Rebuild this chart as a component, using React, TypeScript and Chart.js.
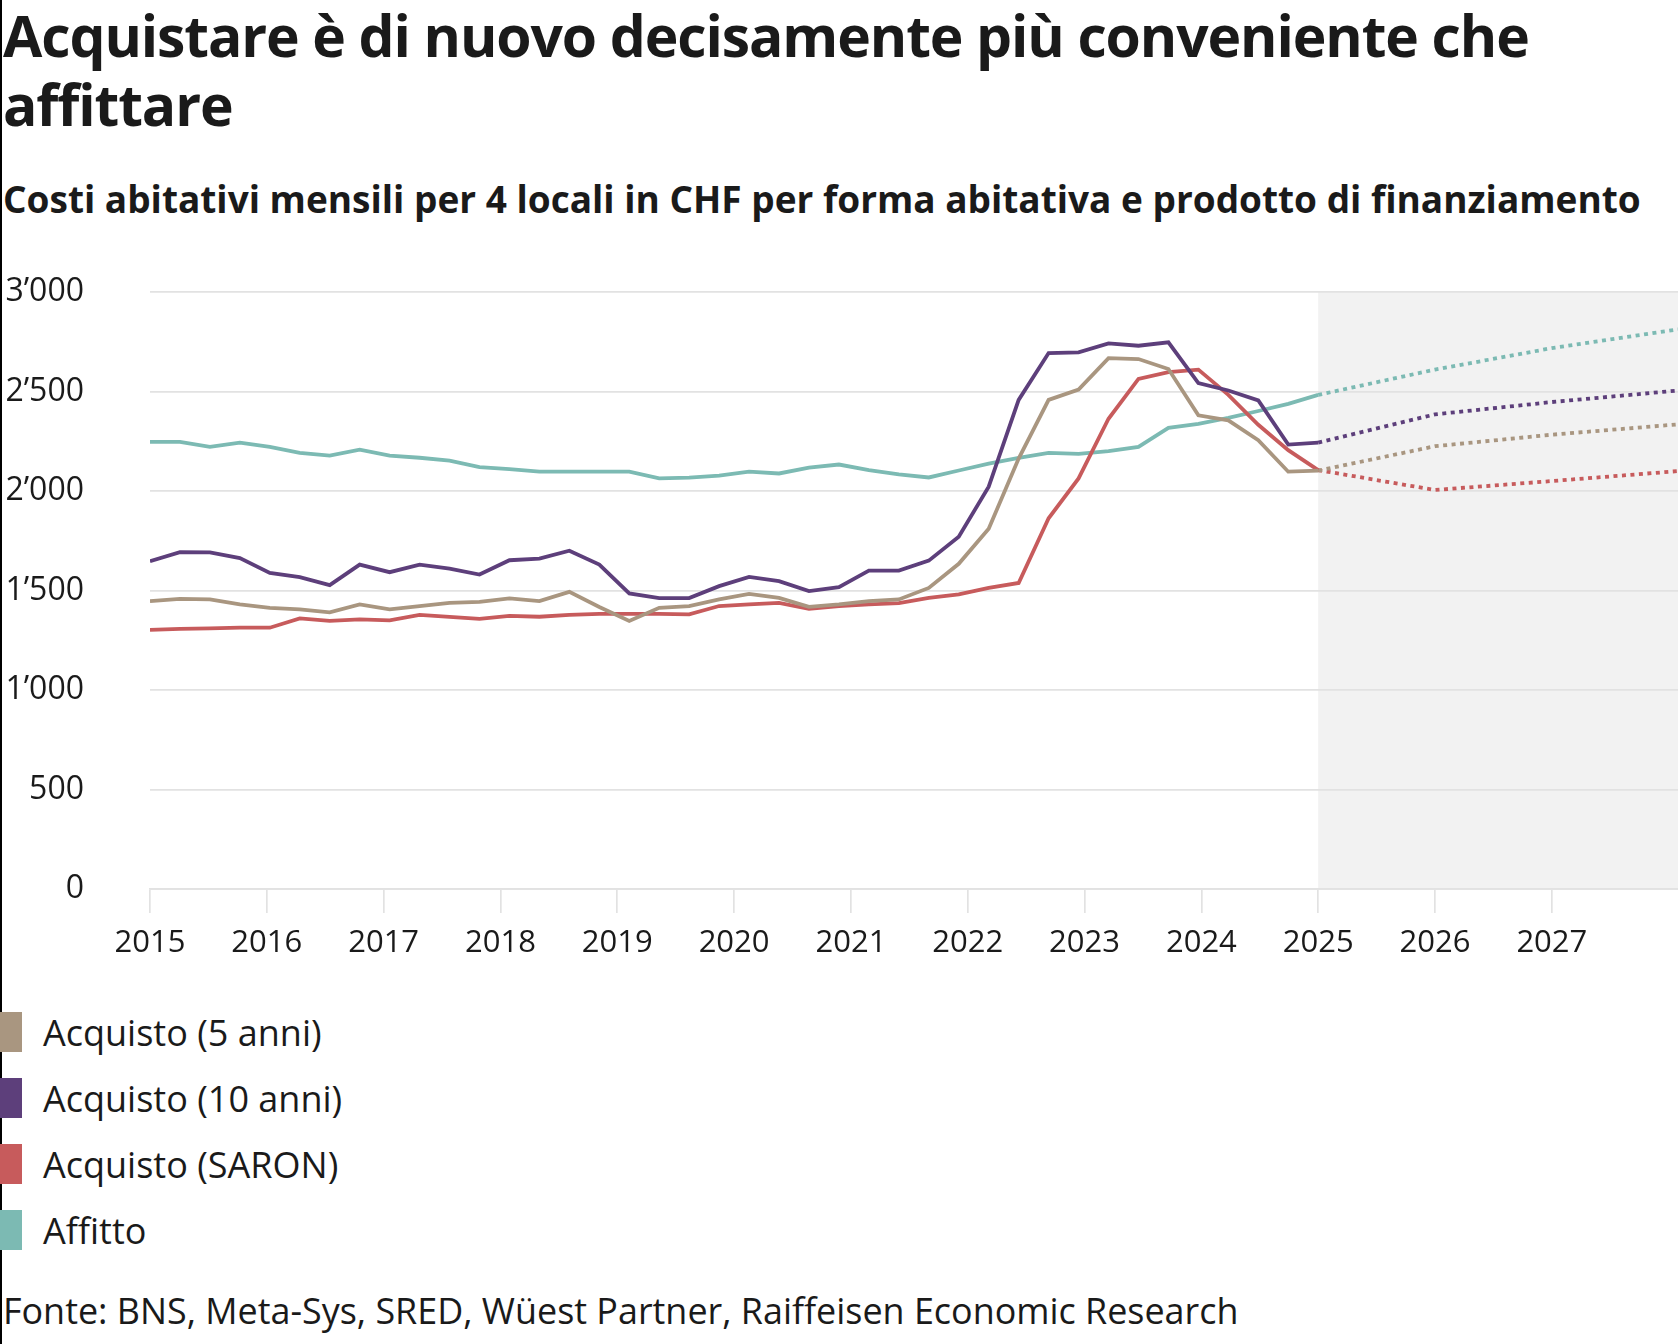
import React, { useEffect, useRef } from 'react';
import { Chart, registerables } from 'chart.js';

Chart.register(...registerables);

// ---- Data -------------------------------------------------------------
const HIST_START = 2015;
const HIST_END = 2025;

// Quarterly history (2015 … 2025), CHF per month
const acquisto5 = [
  1447, 1458, 1455, 1430, 1413, 1405, 1390, 1430, 1405, 1422,
  1438, 1443, 1460, 1447, 1493, 1417, 1347, 1413, 1422, 1455,
  1483, 1463, 1418, 1430, 1447, 1455, 1513, 1634, 1810, 2163,
  2458, 2510, 2668, 2663, 2613, 2380, 2355, 2255, 2097, 2102,
];
const acquisto10 = [
  1647, 1693, 1692, 1663, 1588, 1567, 1527, 1630, 1592, 1630,
  1610, 1580, 1652, 1660, 1700, 1630, 1485, 1462, 1462, 1522,
  1568, 1547, 1497, 1517, 1600, 1600, 1650, 1770, 2022, 2458,
  2693, 2697, 2742, 2730, 2747, 2542, 2505, 2455, 2233, 2243,
];
const acquistoSaron = [
  1302, 1307, 1310, 1313, 1313, 1360, 1347, 1355, 1350, 1377,
  1367, 1357, 1372, 1368, 1377, 1383, 1383, 1383, 1380, 1422,
  1430, 1438, 1408, 1422, 1430, 1437, 1463, 1480, 1513, 1538,
  1863, 2063, 2363, 2563, 2597, 2610, 2483, 2333, 2205, 2105,
];
const affitto = [
  2247, 2247, 2222, 2243, 2222, 2192, 2178, 2208, 2178, 2167,
  2153, 2120, 2110, 2097, 2097, 2097, 2097, 2063, 2067, 2077,
  2097, 2088, 2117, 2133, 2105, 2083, 2068, 2103, 2138, 2167,
  2192, 2187, 2200, 2222, 2317, 2337, 2367, 2402, 2438, 2483,
];

// Forecast (dotted)
const forecastYears = [2025, 2026, 2027, 2028.08];
const acquisto5Fc = [2102, 2225, 2283, 2335];
const acquisto10Fc = [2243, 2385, 2447, 2505];
const acquistoSaronFc = [2105, 2005, 2050, 2100];
const affittoFc = [2483, 2610, 2718, 2812];

const xTickYears = [2015, 2016, 2017, 2018, 2019, 2020, 2021, 2022, 2023, 2024, 2025, 2026, 2027];
const yTickValues = [0, 500, 1000, 1500, 2000, 2500, 3000];
const X_MAX = 2028.08;
const FORECAST_START = 2025;

const seriesNames = ['Acquisto (5 anni)', 'Acquisto (10 anni)', 'Acquisto (SARON)', 'Affitto'];
const seriesColors = ['#a99680', '#5d3f7b', '#c75b5c', '#7cbab3'];

const SUBTITLE = 'Costi abitativi mensili per 4 locali in CHF per forma abitativa e prodotto di finanziamento';
const SOURCE = 'Fonte: BNS, Meta-Sys, SRED, Wüest Partner, Raiffeisen Economic Research';

const FONT = "'Open Sans', 'Noto Sans', sans-serif";
const TEXT = '#1a1a1a';
const GRID = '#e2e2e2';

// layout targets inside the canvas (canvas top = 250)
const CANVAS_TOP = 250;
const CANVAS_H = 720;
const AREA_TOP = 42; // -> page y 292
const X_AXIS_H = 81; // -> chart bottom at page y 889

// ---- Helpers ----------------------------------------------------------
const histPoints = (values: number[]) =>
  values.map((v, i) => ({
    x: HIST_START + (i * (HIST_END - HIST_START)) / (values.length - 1),
    y: v,
  }));
const fcPoints = (values: number[]) => values.map((v, i) => ({ x: forecastYears[i], y: v }));

const fmtThousands = (v: number) => {
  if (v >= 1000) {
    const th = Math.floor(v / 1000);
    const rest = String(v % 1000).padStart(3, '0');
    return `${th}\u2019${rest}`;
  }
  return String(v);
};

const forecastShade = {
  id: 'forecastShade',
  beforeDraw(chart: any) {
    const { ctx, chartArea, scales } = chart;
    const x0 = scales.x.getPixelForValue(FORECAST_START);
    ctx.save();
    ctx.fillStyle = '#f2f2f2';
    ctx.fillRect(x0, chartArea.top, chartArea.right - x0, chartArea.bottom - chartArea.top);
    ctx.restore();
  },
};

export default function App() {
  const canvasRef = useRef<HTMLCanvasElement | null>(null);

  useEffect(() => {
    document.body.style.margin = '0';
    document.body.style.background = '#ffffff';
    const canvas = canvasRef.current;
    if (!canvas) return;

    const hist = [acquisto5, acquisto10, acquistoSaron, affitto];
    const fc = [acquisto5Fc, acquisto10Fc, acquistoSaronFc, affittoFc];

    const datasets: any[] = [];
    hist.forEach((vals, i) => {
      datasets.push({
        label: seriesNames[i],
        data: histPoints(vals),
        borderColor: seriesColors[i],
        backgroundColor: seriesColors[i],
        borderWidth: 3.8,
        pointRadius: 0,
        tension: 0,
        fill: false,
        borderJoinStyle: 'miter',
      });
    });
    fc.forEach((vals, i) => {
      datasets.push({
        label: seriesNames[i] + ' (prognosi)',
        data: fcPoints(vals),
        borderColor: seriesColors[i],
        backgroundColor: seriesColors[i],
        borderWidth: 3.8,
        borderDash: [4, 4.5],
        borderCapStyle: 'butt',
        pointRadius: 0,
        tension: 0,
        fill: false,
      });
    });

    const chart: any = new Chart(canvas, {
      type: 'line',
      data: { datasets },
      plugins: [forecastShade],
      options: {
        animation: false,
        responsive: false,
        maintainAspectRatio: false,
        layout: { padding: { top: AREA_TOP, left: 0, right: 0, bottom: 0 } },
        plugins: {
          legend: { display: false },
          tooltip: { enabled: false },
          title: { display: false },
        },
        scales: {
          x: {
            type: 'linear',
            min: HIST_START,
            max: X_MAX,
            afterBuildTicks: (s: any) => {
              s.ticks = xTickYears.map((v) => ({ value: v }));
            },
            afterFit: (s: any) => {
              s.height = X_AXIS_H;
            },
            ticks: {
              autoSkip: false,
              maxRotation: 0,
              minRotation: 0,
              padding: 12,
              color: TEXT,
              font: { family: FONT, size: 31 },
              callback: (v: any) => String(v),
            },
            grid: {
              drawOnChartArea: false,
              drawTicks: true,
              tickLength: 24,
              color: GRID,
              lineWidth: 1.7,
            },
            border: { display: true, color: GRID, width: 1.7 },
          },
          y: {
            min: 0,
            max: 3000,
            afterBuildTicks: (s: any) => {
              s.ticks = yTickValues.map((v) => ({ value: v }));
            },
            afterFit: (s: any) => {
              s.width = 150;
            },
            ticks: {
              padding: 0,
              color: TEXT,
              font: { family: FONT, size: 32 },
              callback: (v: any) => fmtThousands(Number(v)),
            },
            grid: {
              color: GRID,
              lineWidth: 1.7,
              drawTicks: true,
              tickLength: 66,
              tickColor: 'rgba(0,0,0,0)',
            },
            border: { display: false },
          },
        },
      },
    });

    // correct the plot-area top so that it lands exactly where intended
    for (let k = 0; k < 3; k++) {
      const dt = AREA_TOP - chart.chartArea.top;
      if (Math.abs(dt) < 0.5) break;
      chart.options.layout.padding.top = Math.max(0, chart.options.layout.padding.top + dt);
      chart.update();
    }

    return () => chart.destroy();
  }, []);

  return (
    <div
      style={{
        position: 'relative',
        width: 1678,
        height: 1344,
        overflow: 'hidden',
        background: '#fff',
        fontFamily: FONT,
        color: TEXT,
      }}
    >
      <div style={{ position: 'absolute', left: 0, top: 0, width: 2, height: 1344, background: '#000' }} />
      <div
        style={{
          position: 'absolute',
          left: 3,
          top: 1,
          width: 1660,
          fontWeight: 700,
          fontSize: 57,
          lineHeight: '69px',
          letterSpacing: '-1.1px',
        }}
      >
        Acquistare è di nuovo decisamente più conveniente che
        <br />
        affittare
      </div>
      <div
        style={{
          position: 'absolute',
          left: 3,
          top: 180,
          fontWeight: 700,
          fontSize: 37,
          lineHeight: '37px',
          whiteSpace: 'nowrap',
        }}
      >
        {SUBTITLE}
      </div>
      <canvas
        ref={canvasRef}
        width={1678}
        height={CANVAS_H}
        style={{ position: 'absolute', left: 0, top: CANVAS_TOP, width: 1678, height: CANVAS_H }}
      />
      {seriesNames.map((name, i) => (
        <div key={name}>
          <div
            style={{
              position: 'absolute',
              left: 0,
              top: 1012 + i * 66,
              width: 22,
              height: 40,
              background: seriesColors[i],
            }}
          />
          <div
            style={{
              position: 'absolute',
              left: 43,
              top: 1015 + i * 66,
              fontSize: 36,
              lineHeight: '36px',
              whiteSpace: 'nowrap',
            }}
          >
            {name}
          </div>
        </div>
      ))}
      <div
        style={{
          position: 'absolute',
          left: 3,
          top: 1293,
          fontSize: 35.9,
          lineHeight: '36px',
          whiteSpace: 'nowrap',
        }}
      >
        {SOURCE}
      </div>
    </div>
  );
}
